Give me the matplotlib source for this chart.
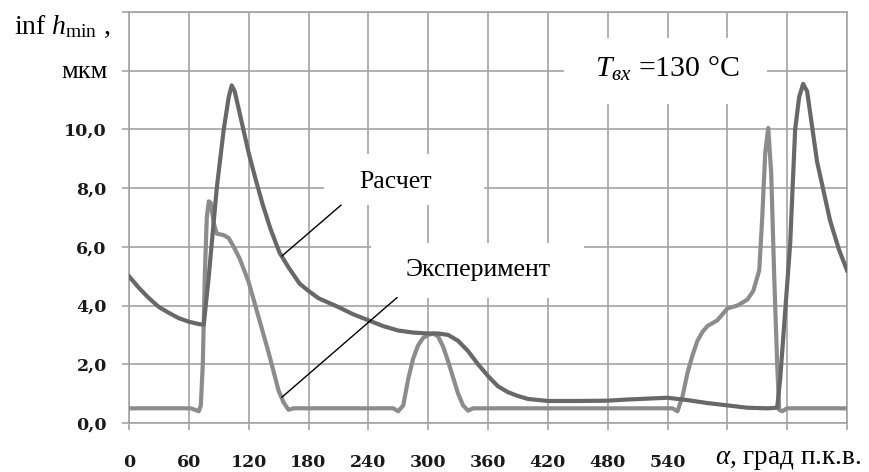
import matplotlib
matplotlib.use("Agg")
import matplotlib.pyplot as plt
from matplotlib.patches import Rectangle

plt.rcParams['mathtext.fontset'] = 'custom'
plt.rcParams['mathtext.rm'] = 'Liberation Serif'
plt.rcParams['mathtext.it'] = 'Liberation Serif:italic'

# ---- data ----
calc_x = [0, 10, 20, 30, 40, 50, 60, 70, 75, 80, 84, 88, 95, 100, 103, 106, 112, 120, 127,
          134, 142, 151, 160, 171, 180, 190, 200, 210, 225, 240, 255, 270, 285, 300, 310,
          320, 330, 340, 350, 360, 370, 380, 390, 400, 420, 450, 480, 500, 520, 540, 560,
          580, 600, 620, 640, 650, 653, 658, 663, 668, 672, 676, 680, 690, 703, 712, 720]
calc_y = [5.0, 4.6, 4.25, 3.95, 3.75, 3.57, 3.45, 3.37, 3.35, 5.0, 6.5, 8.0, 10.0, 11.1, 11.5,
          11.3, 10.4, 9.2, 8.3, 7.45, 6.6, 5.8, 5.3, 4.75, 4.5, 4.25, 4.1, 3.95, 3.7, 3.5, 3.3,
          3.15, 3.08, 3.05, 3.05, 3.0, 2.8, 2.45, 2.0, 1.6, 1.25, 1.05, 0.92, 0.82, 0.75, 0.75,
          0.76, 0.8, 0.83, 0.86, 0.78, 0.68, 0.6, 0.52, 0.5, 0.52, 1.5, 3.8, 6.1, 10.0, 11.1,
          11.55, 11.3, 8.9, 6.9, 5.9, 5.2]

exp_x = [0, 62, 66, 70, 72, 74, 76, 78, 80, 82, 85, 88, 95, 100, 105, 111, 120, 130, 140, 150,
         155, 160, 165, 265, 270, 275, 280, 285, 290, 295, 300, 305, 310, 315, 320, 325, 330,
         335, 340, 345, 545, 550, 555, 560, 565, 570, 575, 580, 590, 600, 610, 620, 626, 632,
         635, 638, 641, 644, 647, 650, 652, 655, 660, 720]
exp_y = [0.5, 0.5, 0.45, 0.4, 0.6, 2.0, 5.0, 7.0, 7.55, 7.5, 6.8, 6.45, 6.4, 6.3, 6.0, 5.6, 4.8,
         3.6, 2.4, 1.1, 0.7, 0.45, 0.5, 0.5, 0.4, 0.6, 1.5, 2.2, 2.65, 2.9, 3.0, 3.05, 2.95, 2.6,
         2.1, 1.55, 1.0, 0.6, 0.42, 0.5, 0.5, 0.4, 0.9, 1.7, 2.3, 2.8, 3.1, 3.3, 3.5, 3.9, 4.0,
         4.2, 4.5, 5.2, 7.0, 9.2, 10.05, 8.5, 5.0, 2.0, 0.45, 0.4, 0.5, 0.5]

x_ticks = [0, 60, 120, 180, 240, 300, 360, 420, 480, 540, 600, 660, 720]
x_labels = ['0', '60', '120', '180', '240', '300', '360', '420', '480', '540', '', '', '']
y_ticks = [0, 2, 4, 6, 8, 10, 12, 14]
y_labels = ['0,0', '2,0', '4,0', '6,0', '8,0', '10,0', '', '']

label_calc = 'Расчет'
label_exp = 'Эксперимент'

# ---- figure ----
W, H = 869, 472
fig = plt.figure(figsize=(W / 100, H / 100), dpi=100)
fig.subplots_adjust(left=129 / W, right=847 / W, top=1 - 12 / H, bottom=1 - 423 / H)
ax = fig.add_subplot(111)

grid_c = '#a3a3a3'
ax.set_xlim(0, 720)
ax.set_ylim(0, 14)
ax.set_xticks(x_ticks)
ax.set_xticklabels(x_labels)
ax.set_yticks(y_ticks)
ax.set_yticklabels(y_labels)
ax.grid(True, color=grid_c, lw=1.2, zorder=0)
ax.set_axisbelow(True)
for s in ax.spines.values():
    s.set_color(grid_c)
    s.set_linewidth(1.2)
ax.tick_params(axis='both', direction='out', color=grid_c, width=1.2, length=5,
               labelcolor='#1a1a1a')
ax.tick_params(axis='x', pad=17.5)
ax.tick_params(axis='y', pad=11)
for lab in ax.get_xticklabels() + ax.get_yticklabels():
    lab.set_fontfamily('DejaVu Serif')
    lab.set_fontweight('bold')
    lab.set_fontsize(12.5)

# white label boxes (cover the grid)
boxes = [(196, 7.42, 160, 1.73), (243, 4.27, 213, 1.87), (436, 10.85, 204, 2.25)]
for bx, by, bw, bh in boxes:
    ax.add_patch(Rectangle((bx, by), bw, bh, facecolor='white', edgecolor='none', zorder=1))

ax.plot(exp_x, exp_y, color='#8c8c8c', lw=3.0, zorder=3, solid_joinstyle='round')
ax.plot(calc_x, calc_y, color='#686868', lw=3.0, zorder=4, solid_joinstyle='round')

# leader lines
ax.plot([153.4, 212.6], [5.69, 7.42], color='black', lw=1.0, zorder=5)
ax.plot([153.4, 268.7], [0.88, 4.27], color='black', lw=1.0, zorder=5)

serif = 'Liberation Serif'
ax.text(267, 8.2, label_calc, fontfamily=serif, fontsize=18.5, ha='center', va='center', zorder=6)
ax.text(350, 5.2, label_exp, fontfamily=serif, fontsize=18.5, ha='center', va='center', zorder=6)
ax.text(540, 12.05, r'$T_{вх}$ =130 °C', fontfamily=serif, fontsize=21.5, ha='center',
        va='center', zorder=6)

# axis captions
fig.text(110 / W, 1 - 27 / H, r'$\mathrm{inf}\ h_{\mathrm{min}}$ ,', fontfamily=serif, fontsize=20,
         ha='right', va='center')
fig.text(108 / W, 1 - 72 / H, 'мкм', fontfamily=serif, fontsize=19, ha='right', va='center')
fig.text(715 / W, 1 - 459 / H, r'$\alpha$, град п.к.в.', fontfamily=serif, fontsize=19.5,
         ha='left', va='center')

fig.savefig('out.png', dpi=100)
